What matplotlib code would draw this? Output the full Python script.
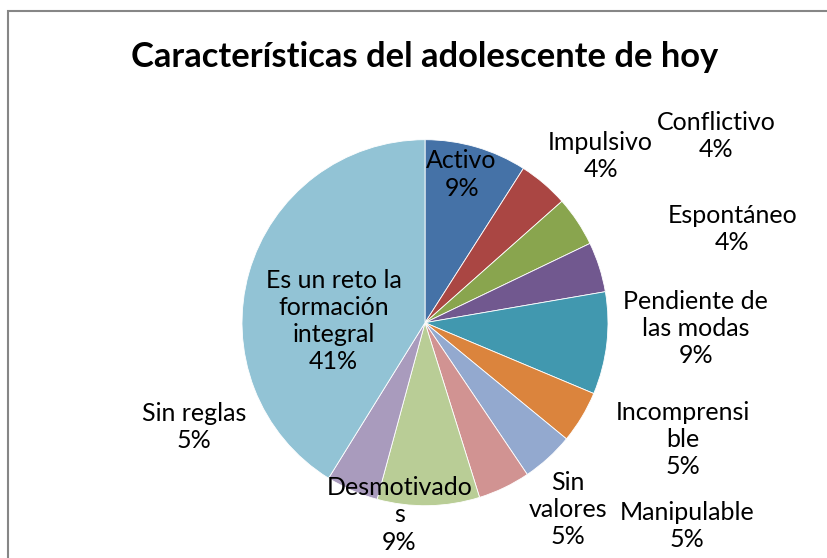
import matplotlib
matplotlib.use('Agg')
from matplotlib import pyplot as plt
from matplotlib.patches import Rectangle

categorias = ['Activo', 'Impulsivo', 'Conflictivo', 'Espontáneo',
              'Pendiente de las modas', 'Incomprensible', 'Manipulable',
              'Sin valores', 'Desmotivados', 'Sin reglas',
              'Es un reto la formación integral']
valores = [9, 4.4, 4.4, 4.4, 9, 4.6, 4.6, 4.6, 9, 4.6, 41]
colores = ['#4572A7', '#AA4643', '#89A54E', '#71588F', '#4198AF', '#DB843D',
           '#93A9CF', '#D19392', '#B9CD96', '#A99BBD', '#92C3D5']

# etiquetas tal como las corta Excel
textos = ['Activo', 'Impulsivo', 'Conflictivo', 'Espontáneo',
          'Pendiente de\nlas modas', 'Incomprensi\nble', 'Manipulable',
          'Sin\nvalores', 'Desmotivado\ns', 'Sin reglas',
          'Es un reto la\nformación\nintegral']
pos_etiquetas = [(0.20, 0.81), (0.96, 0.91), (1.59, 1.02), (1.68, 0.51),
                 (1.48, -0.03), (1.41, -0.64), (1.43, -1.11), (0.78, -1.02),
                 (-0.14, -1.05), (-1.26, -0.57), (-0.50, 0.01)]

plt.rcParams['font.family'] = ['Lato', 'DejaVu Sans']

W, H = 827, 558
fig = plt.figure(figsize=(W / 100, H / 100), dpi=100)
cx, cy, r = 425, 322.7, 183
ax = fig.add_axes([(cx - r) / W, (H - cy - r) / H, 2 * r / W, 2 * r / H])

ax.pie(valores, colors=colores, startangle=90, counterclock=False,
       radius=1, wedgeprops=dict(edgecolor='white', linewidth=0.6))
ax.set_xlim(-1, 1)
ax.set_ylim(-1, 1)
ax.axis('off')

total = sum(valores)
for texto, v, (x, y) in zip(textos, valores, pos_etiquetas):
    pct = 100 * v / total
    ax.text(x, y, f'{texto}\n{pct:.0f}%', ha='center', va='center',
            fontsize=18, linespacing=1.22, color='black', clip_on=False)

fig.text(425 / W, 1 - 57 / H, 'Características del adolescente de hoy',
         ha='center', va='center', fontsize=24.8, fontweight='bold')

# borde del area del grafico
fig.patches.append(Rectangle((8 / W, -0.5), 2, (H - 11) / H + 0.5,
                             transform=fig.transFigure, fill=False,
                             edgecolor='#868686', linewidth=1.5))

fig.savefig('out.png', dpi=100)
